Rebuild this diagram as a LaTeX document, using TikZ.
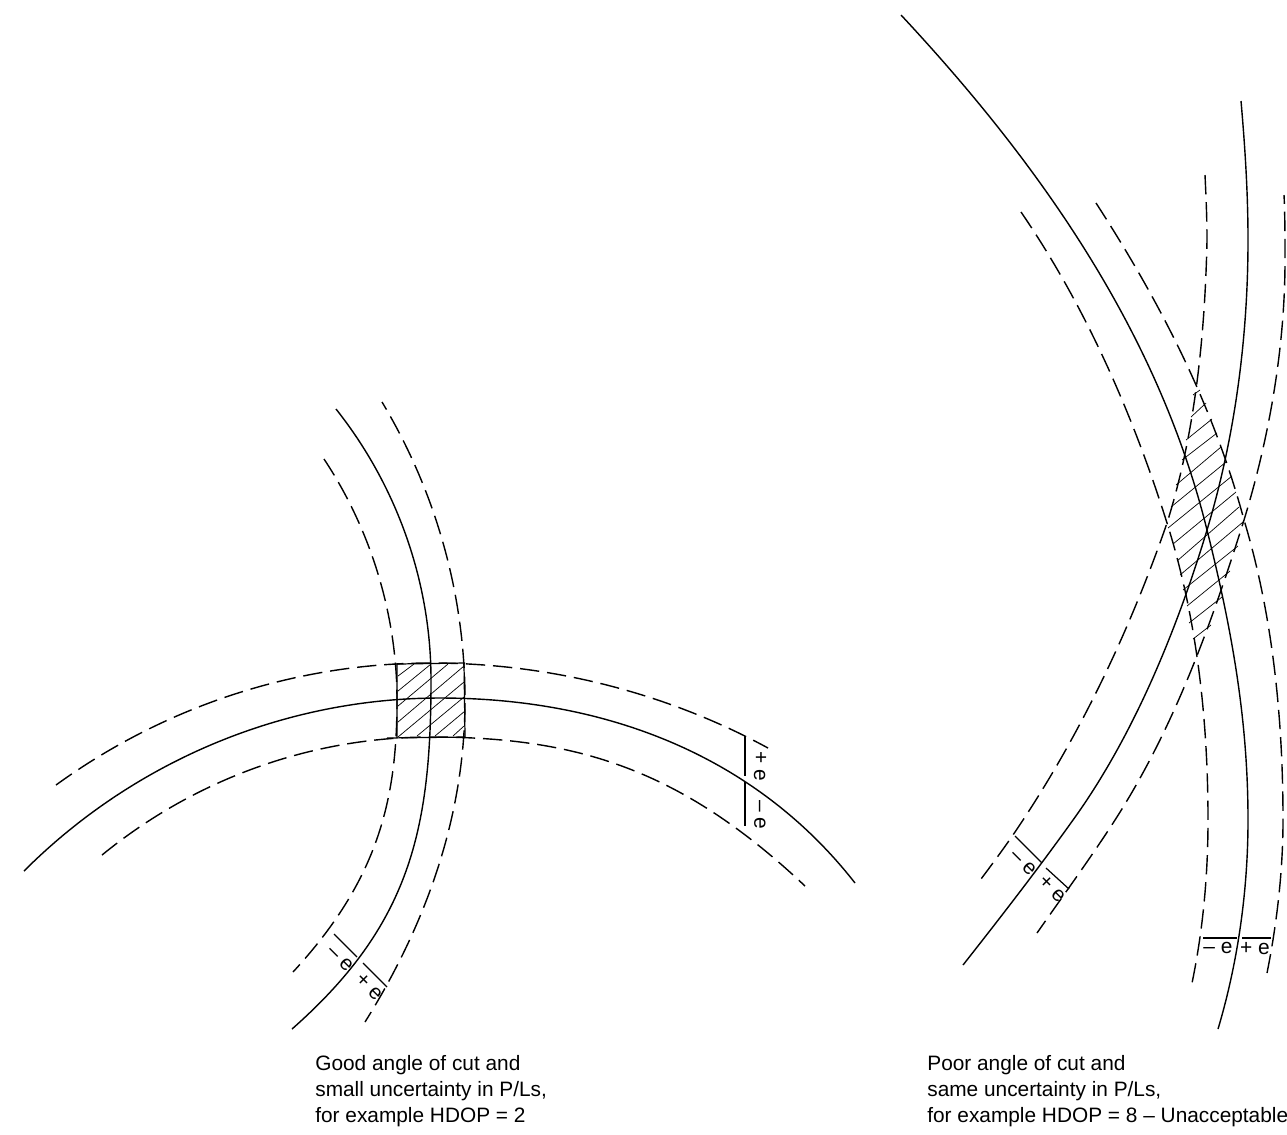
\documentclass[tikz,border=0pt]{standalone}
\usepackage{fontspec}
\setmainfont{Liberation Sans}
\tikzset{
  posline/.style={line width=0.8pt},
  errline/.style={line width=0.8pt,dash pattern=on 11pt off 4.5pt},
  tickline/.style={line width=0.7pt},
  hatchline/.style={line width=0.4pt},
  errlab/.style={font=\fontsize{11.9}{14}\selectfont,inner sep=0pt},
  caption/.style={font=\fontsize{11.86}{14.74}\selectfont,align=left,anchor=north west,inner sep=0pt}
}
\begin{document}
\begin{tikzpicture}[x=0.02cm,y=-0.02cm]
\useasboundingbox (0,0) rectangle (1287,1134);

% good angle of cut
\draw[posline] (24,871) .. controls (134,761) and (284,698) .. (440,698) .. controls (605,698) and (755,755) .. (855,883);
\draw[errline] (56,785) .. controls (165,706) and (296,663) .. (431,663) .. controls (548,663) and (665,692) .. (768,748);
\draw[errline] (102,855) .. controls (195,779) and (311,737) .. (431,737) .. controls (575,737) and (680,768) .. (805,886);
\draw[posline] (336,409) .. controls (397,486) and (431,582) .. (431,680) .. controls (431,830) and (410,925) .. (292,1029);
\draw[errline] (324,459) .. controls (371,530) and (397,615) .. (397,700) .. controls (397,800) and (378,880) .. (293,972);
\draw[errline,dash phase=6pt] (382,402) .. controls (436,492) and (465,595) .. (465,700) .. controls (465,810) and (430,918) .. (365,1022);
\draw[tickline] (397,664) -- (465,663) (387,738) -- (465,737) (397,664) -- (397,738) (464,663) -- (465,737);
\foreach \xa/\ya/\xb/\yb in {398/676/414/664,398/691/431/664,398/706/448/664,398/722/464/666,398/737/464/682,417/736/464/697,435/736/465/711,453/736/464/726}
	\draw[hatchline] (\xa,\ya) -- (\xb,\yb);
\draw[tickline] (745,736) -- (745,776) (745,782) -- (745,826);
\draw[tickline] (334,934) -- (357,957) (363,963) -- (387,987);
\node[errlab,rotate=-90] (goodplus) at (760,766) {+ e};
\node[errlab,rotate=-90] (goodminus) at (760,815) {– e};
\node[errlab,rotate=-45] (goodlow) at (340,959) {– e};
\node[errlab,rotate=-45] (goodhigh) at (369,987) {+ e};
\node[caption] (goodtext) at (315,1055) {Good angle of cut and\\small uncertainty in P/Ls,\\for example HDOP = 2};

% poor angle of cut
\draw[posline] (901,15) .. controls (1040,164) and (1158,332) .. (1207,530) .. controls (1232,630) and (1248,720) .. (1248,820) .. controls (1248,890) and (1238,962) .. (1218,1029);
\draw[posline] (1241,101) .. controls (1245,147) and (1248,193) .. (1248,240) .. controls (1248,337) and (1235,437) .. (1207,530) .. controls (1178,626) and (1135,734) .. (1073,820) .. controls (1038,869) and (1000,918) .. (963,965);
\draw[errline] (1021,212) .. controls (1086,307) and (1133,415) .. (1167,523) .. controls (1197,618) and (1208,720) .. (1208,820) .. controls (1208,875) and (1203,930) .. (1192,983);
\draw[errline] (1096,203) .. controls (1162,305) and (1214,408) .. (1244,520) .. controls (1273,616) and (1283,720) .. (1283,820) .. controls (1283,870) and (1277,923) .. (1267,973);
\draw[errline] (1205,175) .. controls (1206,197) and (1207,218) .. (1207,240) .. controls (1205,335) and (1195,434) .. (1167,523) .. controls (1131,627) and (1083,729) .. (1023,820) .. controls (1008,843) and (993,863) .. (978,883);
\draw[errline,dash phase=6pt] (1284,195) .. controls (1285,215) and (1285,240) .. (1285,260) .. controls (1285,345) and (1270,435) .. (1244,520) .. controls (1211,625) and (1174,728) .. (1115,820) .. controls (1092,856) and (1060,900) .. (1037,933);
\foreach \xa/\ya/\xb/\yb in {1193/395/1200/390,1191/417/1206/403,1186/440/1212/419,1182/460/1217/433,1176/485/1221/447,1171/507/1226/462,1168/528/1232/476,1173/544/1236/492,1177/561/1239/507,1180/575/1243/522,1183/590/1238/546,1187/606/1230/571,1189/623/1222/597,1193/639/1211/625}
	\draw[hatchline] (\xa,\ya) -- (\xb,\yb);
\draw[tickline] (1015,836) -- (1042,863) (1046,868) -- (1069,889);
\draw[tickline] (1203,938) -- (1237,938) (1242,938) -- (1271,938);
\node[errlab,rotate=-45] (poorlow) at (1023,863) {– e};
\node[errlab,rotate=-45] (poorhigh) at (1052,889) {+ e};
\node[errlab] (poorminus) at (1218,948) {– e};
\node[errlab] (poorplus) at (1255,949) {+ e};
\node[caption] (poortext) at (927,1055) {Poor angle of cut and\\same uncertainty in P/Ls,\\for example HDOP = 8 – Unacceptable};
\end{tikzpicture}
\end{document}
